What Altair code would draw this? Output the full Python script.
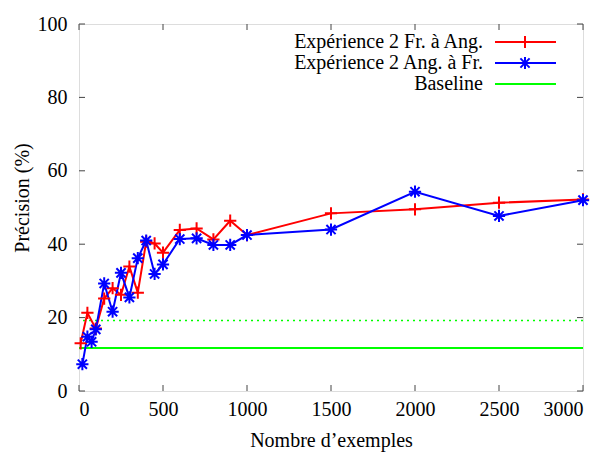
import altair as alt
import pandas as pd

# --- data ---
red_x = [10, 50, 100, 150, 200, 250, 300, 350, 400, 450, 500, 600, 700, 800, 900, 1000, 1500, 2000, 2500, 3000]
red_y = [13.0, 21.3, 17.0, 25.2, 28.0, 26.2, 33.9, 26.8, 40.7, 40.2, 37.7, 43.9, 44.3, 41.3, 46.4, 42.5, 48.4, 49.5, 51.3, 52.2]
blue_x = [20, 50, 75, 100, 150, 200, 250, 300, 350, 400, 450, 500, 600, 700, 800, 900, 1000, 1500, 2000, 2500, 3000]
blue_y = [7.3, 14.8, 13.4, 16.8, 29.3, 21.6, 32.2, 25.5, 36.2, 41.0, 31.9, 34.5, 41.4, 41.6, 39.8, 39.8, 42.5, 44.0, 54.3, 47.7, 52.0]
baseline_solid = [11.7]
baseline_dotted = [19.2]
series_names = ["Expérience 2 Fr. à Ang.", "Expérience 2 Ang. à Fr.", "Baseline"]
x_ticks = [0, 500, 1000, 1500, 2000, 2500, 3000]
y_ticks = [0, 20, 40, 60, 80, 100]

FONT = "Liberation Serif, Tinos, DejaVu Serif, serif"
FS = 20
W, H = 504, 367
PLUS = "M-1,0L1,0M0,-1L0,1"
STAR = "M-1,0L1,0M0,-1L0,1M-0.75,-0.75L0.75,0.75M-0.75,0.75L0.75,-0.75"
MSIZE = 150

df = pd.concat([
    pd.DataFrame({"x": red_x, "y": red_y, "s": series_names[0], "k": 0}),
    pd.DataFrame({"x": blue_x, "y": blue_y, "s": series_names[1], "k": 1}),
])

xs = alt.Scale(domain=[0, 3000], nice=False)
ys = alt.Scale(domain=[0, 100], nice=False)
cs = alt.Scale(domain=series_names[:2], range=["#ff0000", "#0000ff"])
ss = alt.Scale(domain=series_names[:2], range=[PLUS, STAR])

xaxis = alt.Axis(values=x_ticks, format="d", ticks=False, domain=False, grid=False, labelFont=FONT,
                 labelFontSize=FS, labelColor="black", labelPadding=8, title="Nombre d’exemples",
                 titleFont=FONT, titleFontSize=FS, titleFontWeight="normal", titleColor="black",
                 titleX=W / 2, titleY=49, titleBaseline="middle")
yaxis = alt.Axis(values=y_ticks, format="d", ticks=False, domain=False, grid=False, labelFont=FONT,
                 labelFontSize=FS, labelColor="black", labelPadding=12, title="Précision (%)",
                 titleFont=FONT, titleFontSize=FS, titleFontWeight="normal", titleColor="black",
                 titleX=-57, titleY=H / 2 - 10, titleAngle=-90, titleBaseline="middle", titleAlign="center")

base = alt.Chart(df)
lines = base.mark_line(strokeWidth=2).encode(
    x=alt.X("x:Q", scale=xs, axis=xaxis),
    y=alt.Y("y:Q", scale=ys, axis=yaxis),
    color=alt.Color("s:N", scale=cs, legend=None),
    detail="s:N",
    order="x:Q",
)
points = base.mark_point(filled=False, strokeWidth=2, size=MSIZE, opacity=1).encode(
    x=alt.X("x:Q", scale=xs),
    y=alt.Y("y:Q", scale=ys),
    color=alt.Color("s:N", scale=cs, legend=None),
    shape=alt.Shape("s:N", scale=ss, legend=None),
)

solid = alt.Chart(pd.DataFrame({"y": baseline_solid})).mark_rule(color="#00ff00", strokeWidth=2).encode(
    y=alt.Y("y:Q", scale=ys))
dotted = alt.Chart(pd.DataFrame({"y": baseline_dotted})).mark_rule(
    color="#00ff00", strokeWidth=1.5, strokeDash=[2, 4]).encode(y=alt.Y("y:Q", scale=ys))

# inward ticks on all four sides
tick_style = dict(color="#444444", strokeWidth=1)
xt = pd.DataFrame({"x": x_ticks})
yt = pd.DataFrame({"y": y_ticks})
xb = alt.Chart(xt).mark_rule(**tick_style).encode(x=alt.X("x:Q", scale=xs), y=alt.value(H), y2=alt.value(H - 6))
xtop = alt.Chart(xt).mark_rule(**tick_style).encode(x=alt.X("x:Q", scale=xs), y=alt.value(0), y2=alt.value(6))
yl = alt.Chart(yt).mark_rule(**tick_style).encode(y=alt.Y("y:Q", scale=ys), x=alt.value(0), x2=alt.value(6))
yr = alt.Chart(yt).mark_rule(**tick_style).encode(y=alt.Y("y:Q", scale=ys), x=alt.value(W), x2=alt.value(W - 6))

# legend (gnuplot style: text on the left, sample on the right)
leg = pd.DataFrame({"label": series_names, "i": [0, 1, 2],
                    "col": ["#ff0000", "#0000ff", "#00ff00"]})
legbase = alt.Chart(leg).transform_calculate(py="18 + 21 * datum.i")
leg_text = legbase.mark_text(align="right", baseline="middle", font=FONT, fontSize=20, color="black").encode(
    x=alt.value(404), y=alt.Y("py:Q", scale=None), text="label:N")
leg_line = legbase.mark_rule(strokeWidth=2).encode(
    x=alt.value(416), x2=alt.value(477), y=alt.Y("py:Q", scale=None),
    color=alt.Color("col:N", scale=None))
leg_pt = alt.Chart(leg).transform_filter("datum.i < 2").transform_calculate(py="18 + 21 * datum.i").mark_point(
    filled=False, strokeWidth=2, size=MSIZE, opacity=1).encode(
    x=alt.value(446), y=alt.Y("py:Q", scale=None),
    color=alt.Color("col:N", scale=None),
    shape=alt.Shape("label:N", scale=alt.Scale(domain=series_names[:2], range=[PLUS, STAR]), legend=None))

chart = alt.layer(dotted, solid, lines, points, xb, xtop, yl, yr, leg_text, leg_line, leg_pt).properties(
    width=W, height=H,
    autosize=alt.AutoSizeParams(type="none"),
    padding={"left": 71, "top": 16, "right": 20, "bottom": 62},
).configure_view(stroke="black", strokeWidth=1.5).configure(background="white", font=FONT)

chart.save("out.html", embed_options={"renderer": "svg", "actions": False})
